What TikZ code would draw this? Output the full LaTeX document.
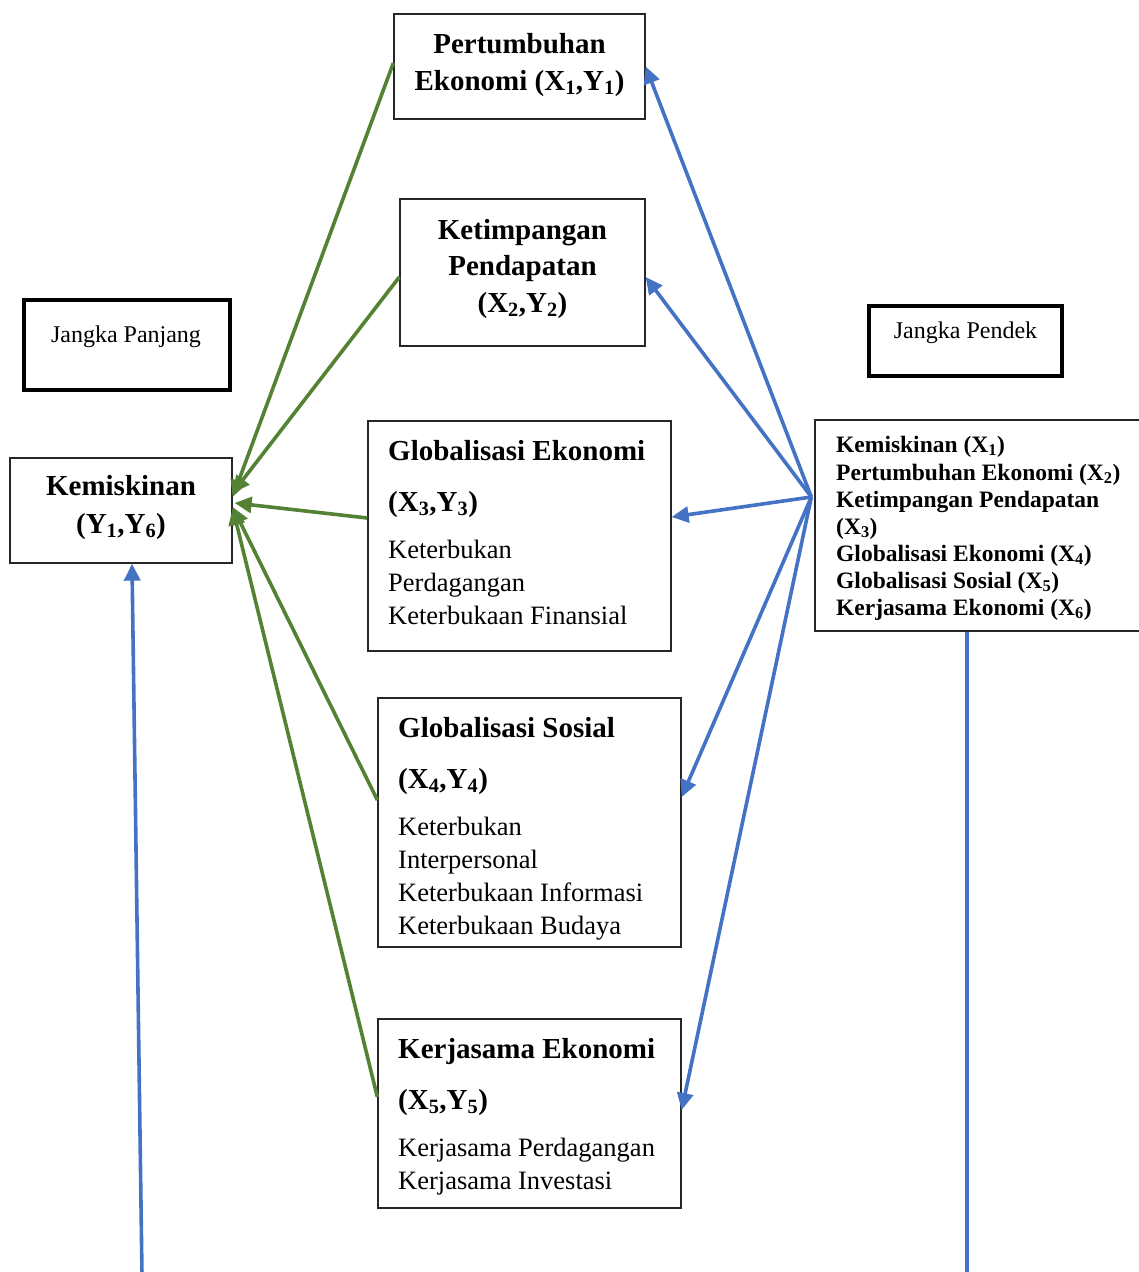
\documentclass[tikz,border=0pt]{standalone}
\usepackage{fontspec}
\setmainfont{Liberation Serif}
\usetikzlibrary{arrows.meta}
\definecolor{grn}{RGB}{84,130,53}
\definecolor{blu}{RGB}{68,114,196}

\begin{document}
\begin{tikzpicture}[x=1pt,y=-1pt,
    box/.style={draw=black!85, line width=1.3pt, inner sep=0pt},
    thickbox/.style={draw=black, line width=3.8pt, inner sep=0pt},
    hd/.style={font=\fontsize{29}{35}\selectfont\bfseries, inner sep=0pt, anchor=base},
    hdl/.style={font=\fontsize{29}{35}\selectfont\bfseries, inner sep=0pt, anchor=base west},
    txt/.style={font=\fontsize{26.5}{32}\selectfont, inner sep=0pt, anchor=base west},
    sm/.style={font=\fontsize{23.5}{28}\selectfont\bfseries, inner sep=0pt, anchor=base west},
    lbl/.style={font=\fontsize{24}{28}\selectfont, inner sep=0pt, anchor=base},
    garr/.style={draw=grn, line width=3.6pt, -{Triangle[length=17pt,width=16pt]}},
    barr/.style={draw=blu, line width=3.6pt, -{Triangle[length=17pt,width=16pt]}},
    bline/.style={draw=blu, line width=3.6pt}]

    \useasboundingbox (0,0) rectangle (1139,1272);
    \clip (0,0) rectangle (1139,1272);

    \node[box, minimum width=251pt, minimum height=105pt] (pe) at (519.5,66.5) {};
    \node[hd] (pe1) at (519.5,53) {Pertumbuhan};
    \node[hd] (pe2) at (519.5,90) {Ekonomi (X\textsubscript{1},Y\textsubscript{1})};

    \node[box, minimum width=245pt, minimum height=147pt] (kp) at (522.5,272.5) {};
    \node[hd] (kp1) at (522.5,239) {Ketimpangan};
    \node[hd] (kp2) at (522.5,275) {Pendapatan};
    \node[hd] (kp3) at (522.5,312) {(X\textsubscript{2},Y\textsubscript{2})};

    \node[thickbox, minimum width=206pt, minimum height=90pt] (jp) at (127,345) {};
    \node[lbl] (jp1) at (126,342) {Jangka Panjang};

    \node[thickbox, minimum width=193pt, minimum height=70pt] (jd) at (965.5,341) {};
    \node[lbl] (jd1) at (965.5,338) {Jangka Pendek};

    \node[box, minimum width=222pt, minimum height=105pt] (kem) at (121,510.5) {};
    \node[hd] (kem1) at (121,495) {Kemiskinan};
    \node[hd] (kem2) at (121,533) {(Y\textsubscript{1},Y\textsubscript{6})};

    \node[box, minimum width=303pt, minimum height=230pt] (ge) at (519.5,536) {};
    \node[hdl] (ge1) at (388,460) {Globalisasi Ekonomi};
    \node[hdl] (ge2) at (388,511) {(X\textsubscript{3},Y\textsubscript{3})};
    \node[txt] (ge3) at (388,558) {Keterbukan};
    \node[txt] (ge4) at (388,591) {Perdagangan};
    \node[txt] (ge5) at (388,624) {Keterbukaan Finansial};

    \node[box, minimum width=303pt, minimum height=249pt] (gs) at (529.5,822.5) {};
    \node[hdl] (gs1) at (398,737) {Globalisasi Sosial};
    \node[hdl] (gs2) at (398,788) {(X\textsubscript{4},Y\textsubscript{4})};
    \node[txt] (gs3) at (398,835) {Keterbukan};
    \node[txt] (gs4) at (398,868) {Interpersonal};
    \node[txt] (gs5) at (398,901) {Keterbukaan Informasi};
    \node[txt] (gs6) at (398,934) {Keterbukaan Budaya};

    \node[box, minimum width=303pt, minimum height=189pt] (kj) at (529.5,1113.5) {};
    \node[hdl] (kj1) at (398,1058) {Kerjasama Ekonomi};
    \node[hdl] (kj2) at (398,1109) {(X\textsubscript{5},Y\textsubscript{5})};
    \node[txt] (kj3) at (398,1156) {Kerjasama Perdagangan};
    \node[txt] (kj4) at (398,1189) {Kerjasama Investasi};

    \node[box, minimum width=330pt, minimum height=211pt] (rb) at (980,525.5) {};
    \begin{scope}
        \clip (815,420) rectangle (1139,619);
        \node[sm] (rb1) at (836,452) {Kemiskinan (X\textsubscript{1})};
        \node[sm] (rb2) at (836,480) {Pertumbuhan Ekonomi (X\textsubscript{2})};
        \node[sm] (rb3) at (836,507) {Ketimpangan Pendapatan};
        \node[sm] (rb4) at (836,534) {(X\textsubscript{3})};
        \node[sm] (rb5) at (836,561) {Globalisasi Ekonomi (X\textsubscript{4})};
        \node[sm] (rb6) at (836,588) {Globalisasi Sosial (X\textsubscript{5})};
        \node[sm] (rb7) at (836,615) {Kerjasama Ekonomi (X\textsubscript{6})};
    \end{scope}

    \draw[garr] ([yshift=3.5pt]pe.west) -- ([yshift=13.5pt]kem.east);
    \draw[garr] ([yshift=-4.5pt]kp.west) -- ([yshift=17.5pt]kem.east);
    \draw[garr] ([yshift=18pt]ge.west) -- ([xshift=2pt,yshift=7.5pt]kem.east);
    \draw[garr] ([yshift=22.5pt]gs.west) -- ([yshift=3.5pt]kem.east);
    \draw[garr] ([yshift=16.5pt]kj.west) -- ([yshift=2.5pt]kem.east);

    \coordinate (hub) at ([xshift=-3pt,yshift=28.5pt]rb.west);
    \draw[barr] (hub) -- (pe.east);
    \draw[barr] (hub) -- ([yshift=-4.5pt]kp.east);
    \draw[barr] (hub) -- ([yshift=19pt]ge.east);
    \draw[barr] (hub) -- ([yshift=25.5pt]gs.east);
    \draw[barr] (hub) -- ([yshift=3.5pt]kj.east);

    \coordinate (low1) at (142,1275);
    \draw[barr] (low1) -- ([xshift=11pt]kem.south);
    \coordinate (low2) at (967,1275);
    \draw[bline] (rb.south -| low2) -- (low2);

\end{tikzpicture}
\end{document}
